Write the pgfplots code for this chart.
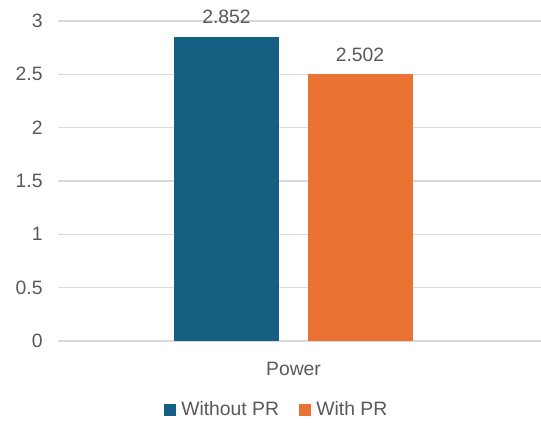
\documentclass[border=0pt]{standalone}
\usepackage{pgfplots}
\pgfplotsset{compat=1.18}
\usepackage{fontspec}
\setmainfont{Liberation Sans}
\definecolor{barblue}{HTML}{156082}
\definecolor{barorange}{HTML}{E97132}
\definecolor{txtgray}{HTML}{595959}
\definecolor{gridgray}{HTML}{D9D9D9}
\begin{document}
\begin{tikzpicture}
\path[use as bounding box] (0,0) rectangle (405.75pt,317.25pt);
\begin{axis}[
  at={(43.5pt,61.5pt)}, anchor=south west,
  scale only axis,
  width=362.25pt, height=240pt,
  ybar, bar shift=0pt, bar width=105,
  xmin=-235.5, xmax=247.5,
  ymin=0, ymax=3,
  ytick={0,0.5,...,3},
  xtick={0}, xticklabels={Power},
  axis line style={draw=none},
  tick style={draw=none},
  ymajorgrids,
  major grid style={gridgray, line width=0.9pt},
  font=\fontsize{14.5}{17}\selectfont\color{txtgray},
  /pgf/number format/assume math mode=true,
  yticklabel style={anchor=east, xshift=-8pt},
  xticklabel style={anchor=north, yshift=-8pt},
  nodes near coords,
  nodes near coords style={font=\fontsize{14.5}{17}\selectfont\color{txtgray},
    /pgf/number format/fixed, /pgf/number format/precision=3,
    /pgf/number format/fixed zerofill, yshift=6pt},
  legend style={at={(0.4534,-0.2156)}, anchor=center, draw=none,
    legend columns=-1, font=\fontsize{14.5}{17}\selectfont\color{txtgray},
    /tikz/every even column/.append style={column sep=13pt}},
  legend image code/.code={\fill[#1] (0pt,-4.5pt) rectangle (9pt,4.5pt);
    \path (0pt,0pt) -- (11pt,0pt);},
]
% Power without / with PR
\addplot[fill=barblue, draw=none] coordinates {(-67,2.852)};
\addplot[fill=barorange, draw=none] coordinates {(66.5,2.502)};
\legend{Without PR, With PR}
\end{axis}
\end{tikzpicture}
\end{document}
